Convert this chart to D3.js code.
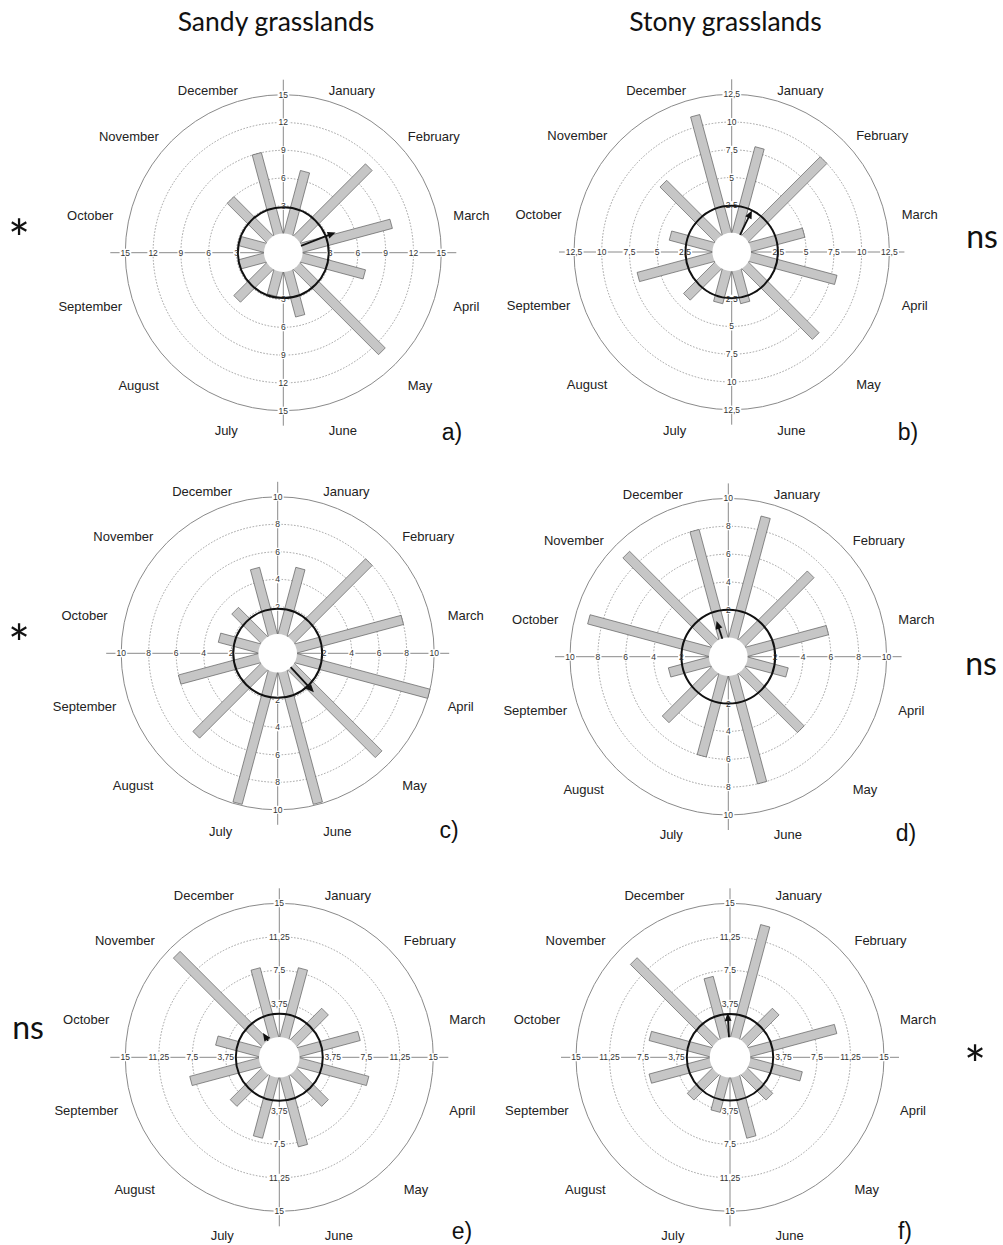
<!DOCTYPE html>
<html>
<head>
<meta charset="utf-8">
<script src="https://cdn.jsdelivr.net/npm/d3@7"></script>
<style>
  html, body { margin: 0; padding: 0; background: #fff; }
  svg { display: block; }
</style>
</head>
<body>
<svg id="chart" width="1003" height="1245"></svg>
<script>
// ---------------- DATA ----------------
const months = ["January","February","March","April","May","June","July","August","September","October","November","December"];

const valuesA = [7, 11, 10, 7, 13, 5, 2.7, 5, 2.85, 2.75, 6, 9];
const valuesB = [8, 10, 5, 8, 9, 3, 3, 4, 7, 4, 7, 11];
const valuesC = [5, 8, 8, 10, 9, 9.9, 9.9, 7, 6, 3, 3, 5];
const valuesD = [9, 7, 6, 3, 6, 8, 6, 5, 3, 9, 9, 8];
const valuesE = [8, 5, 7, 8, 5, 8, 7, 5, 8, 5, 14, 8];
const valuesF = [13, 5, 10, 6, 4, 7, 4, 4, 7, 7, 13, 7];

const ticksA = [3, 6, 9, 12, 15];
const ticksB = [2.5, 5, 7.5, 10, 12.5];
const ticksC = [2, 4, 6, 8, 10];
const ticksD = [2, 4, 6, 8, 10];
const ticksE = [3.75, 7.5, 11.25, 15];
const ticksF = [3.75, 7.5, 11.25, 15];

// critical circle (black ring) value per panel
const circleValues = [2.85, 2.45, 1.85, 2.0, 2.63, 2.6];
// mean vector: direction (degrees clockwise from north) and length
const meanAngles  = [68.8, 26, 137, 341.7, 326, 357];
const meanLengths = [4.0, 2.44, 2.48, 1.33, 1.04, 2.73];

const panelLetters = ["a)", "b)", "c)", "d)", "e)", "f)"];
const columnTitles = ["Sandy grasslands", "Stony grasslands"];
const significance = ["*", "ns", "*", "ns", "ns", "*"];

// ---------------- LAYOUT ----------------
const layout = [
  { cx: 283.3, cy: 252.7, r0: 19, R: 158,   lx: 452, ly: 432 },
  { cx: 731.7, cy: 252.0, r0: 19, R: 157.7, lx: 908, ly: 432 },
  { cx: 277.7, cy: 653.3, r0: 19, R: 156.5, lx: 449, ly: 830 },
  { cx: 728.3, cy: 656.7, r0: 19, R: 158.3, lx: 906, ly: 833 },
  { cx: 279.3, cy: 1057.3, r0: 20, R: 154,  lx: 462, ly: 1231 },
  { cx: 730.0, cy: 1057.3, r0: 20, R: 154,  lx: 905, ly: 1231 }
];
const sigPos = [
  { x: 19, y: 236 }, { x: 982, y: 240 },
  { x: 19, y: 641 }, { x: 981, y: 667 },
  { x: 28, y: 1031 }, { x: 975, y: 1062 }
];

const allValues = [valuesA, valuesB, valuesC, valuesD, valuesE, valuesF];
const allTicks = [ticksA, ticksB, ticksC, ticksD, ticksE, ticksF];

const svg = d3.select("#chart");
const fmt = v => String(v).replace(".", ",");
const rad = d => d * Math.PI / 180;
const barWidth = 9.5;
const labelR = 176;

// titles
svg.selectAll("text.title").data(columnTitles).join("text")
  .attr("class", "title")
  .attr("x", (d, i) => i === 0 ? 276 : 725.5)
  .attr("y", 31)
  .attr("text-anchor", "middle")
  .attr("font-family", "Lato, 'Open Sans', sans-serif")
  .attr("font-size", 26.5)
  .attr("fill", "#111")
  .text(d => d);

layout.forEach((L, p) => {
  const vals = allValues[p];
  const ticks = allTicks[p];
  const maxV = ticks[ticks.length - 1];
  const r = d3.scaleLinear().domain([0, maxV]).range([L.r0, L.R]);
  const g = svg.append("g").attr("transform", `translate(${L.cx},${L.cy})`);

  // dotted inner rings
  g.selectAll("circle.ring").data(ticks.slice(0, -1)).join("circle")
    .attr("class", "ring")
    .attr("r", d => r(d))
    .attr("fill", "none")
    .attr("stroke", "#8a8a8a")
    .attr("stroke-width", 0.8)
    .attr("stroke-dasharray", "1.6,1.6");
  // outer ring
  g.append("circle").attr("r", r(maxV))
    .attr("fill", "none").attr("stroke", "#8a8a8a").attr("stroke-width", 1);

  // axes
  const ext = L.R + 15;
  g.append("line").attr("x1", -ext).attr("x2", ext).attr("y1", 0).attr("y2", 0)
    .attr("stroke", "#8a8a8a").attr("stroke-width", 1);
  g.append("line").attr("y1", -ext).attr("y2", ext).attr("x1", 0).attr("x2", 0)
    .attr("stroke", "#8a8a8a").attr("stroke-width", 1);

  // tick label positions (4 directions)
  const tickPos = [];
  ticks.forEach(t => {
    const rr = r(t);
    tickPos.push({ t, x: rr, y: 0 }, { t, x: -rr, y: 0 }, { t, x: 0, y: -rr }, { t, x: 0, y: rr });
  });
  const tickG = g.append("g");
  const bgG = tickG.append("g");
  const txtG = tickG.append("g");

  // bars
  const barG = g.append("g");
  barG.selectAll("rect").data(vals).join("rect")
    .attr("x", -barWidth / 2)
    .attr("y", d => -r(d))
    .attr("width", barWidth)
    .attr("height", d => r(d))
    .attr("transform", (d, i) => `rotate(${15 + 30 * i})`)
    .attr("fill", "#c6c6c6")
    .attr("stroke", "#555")
    .attr("stroke-width", 0.6);

  // hole
  g.append("circle").attr("r", L.r0 + 0.3).attr("fill", "#fff");

  // black critical circle
  g.append("circle").attr("r", r(circleValues[p]))
    .attr("fill", "none").attr("stroke", "#111").attr("stroke-width", 2);

  // mean vector arrow
  const a = rad(meanAngles[p]);
  const tipR = r(meanLengths[p]);
  const sx = Math.sin(a), sy = -Math.cos(a);
  const headLen = 8, headW = 3.5;
  const baseR = tipR - headLen;
  g.append("line")
    .attr("x1", sx * L.r0).attr("y1", sy * L.r0)
    .attr("x2", sx * (baseR + 1)).attr("y2", sy * (baseR + 1))
    .attr("stroke", "#111").attr("stroke-width", 1.8);
  const px = -sy, py = sx;
  const head = [
    [sx * tipR, sy * tipR],
    [sx * baseR + px * headW, sy * baseR + py * headW],
    [sx * baseR - px * headW, sy * baseR - py * headW]
  ];
  g.append("path").attr("d", "M" + head.map(q => q.join(",")).join("L") + "Z")
    .attr("fill", "#111");

  // tick labels (text on top; white backgrounds under the bars to break lines)
  const texts = txtG.selectAll("text").data(tickPos).join("text")
    .attr("x", d => d.x).attr("y", d => d.y)
    .attr("dy", "0.35em")
    .attr("text-anchor", "middle")
    .attr("font-family", "'Liberation Sans', Arial, sans-serif")
    .attr("font-size", 8.5)
    .attr("fill", "#333")
    .text(d => fmt(d.t));
  texts.each(function () {
    const b = this.getBBox();
    bgG.append("rect").attr("x", b.x - 1).attr("y", b.y + 1).attr("width", b.width + 2).attr("height", b.height - 2)
      .attr("fill", "#fff");
  });
  // move text layer to top
  g.node().appendChild(txtG.node());

  // month labels
  g.selectAll("text.month").data(months).join("text")
    .attr("class", "month")
    .attr("x", (d, i) => {
      const rr = i === 8 ? 167 : labelR;
      return Math.sin(rad(15 + 30 * i)) * rr;
    })
    .attr("y", (d, i) => 8 - Math.cos(rad(15 + 30 * i)) * labelR)
    .attr("dy", "0.35em")
    .attr("text-anchor", (d, i) => i < 6 ? "start" : "end")
    .attr("font-family", "'Liberation Sans', Arial, sans-serif")
    .attr("font-size", 13)
    .attr("fill", "#222")
    .text(d => d);

  // panel letter
  svg.append("text")
    .attr("x", L.lx).attr("y", L.ly).attr("dy", "0.33em")
    .attr("text-anchor", "middle")
    .attr("font-family", "'Liberation Sans', Arial, sans-serif")
    .attr("font-size", 23)
    .attr("fill", "#111")
    .text(panelLetters[p]);
});

// significance markers
svg.selectAll("text.sig").data(significance).join("text")
  .attr("class", "sig")
  .attr("x", (d, i) => sigPos[i].x)
  .attr("y", (d, i) => d === "*" ? sigPos[i].y + 22 : sigPos[i].y + 8)
  .attr("text-anchor", "middle")
  .attr("font-family", "Lato, 'Open Sans', sans-serif")
  .attr("font-size", d => d === "*" ? 52 : 32)
  .attr("fill", "#111")
  .text(d => d);
</script>
</body>
</html>
